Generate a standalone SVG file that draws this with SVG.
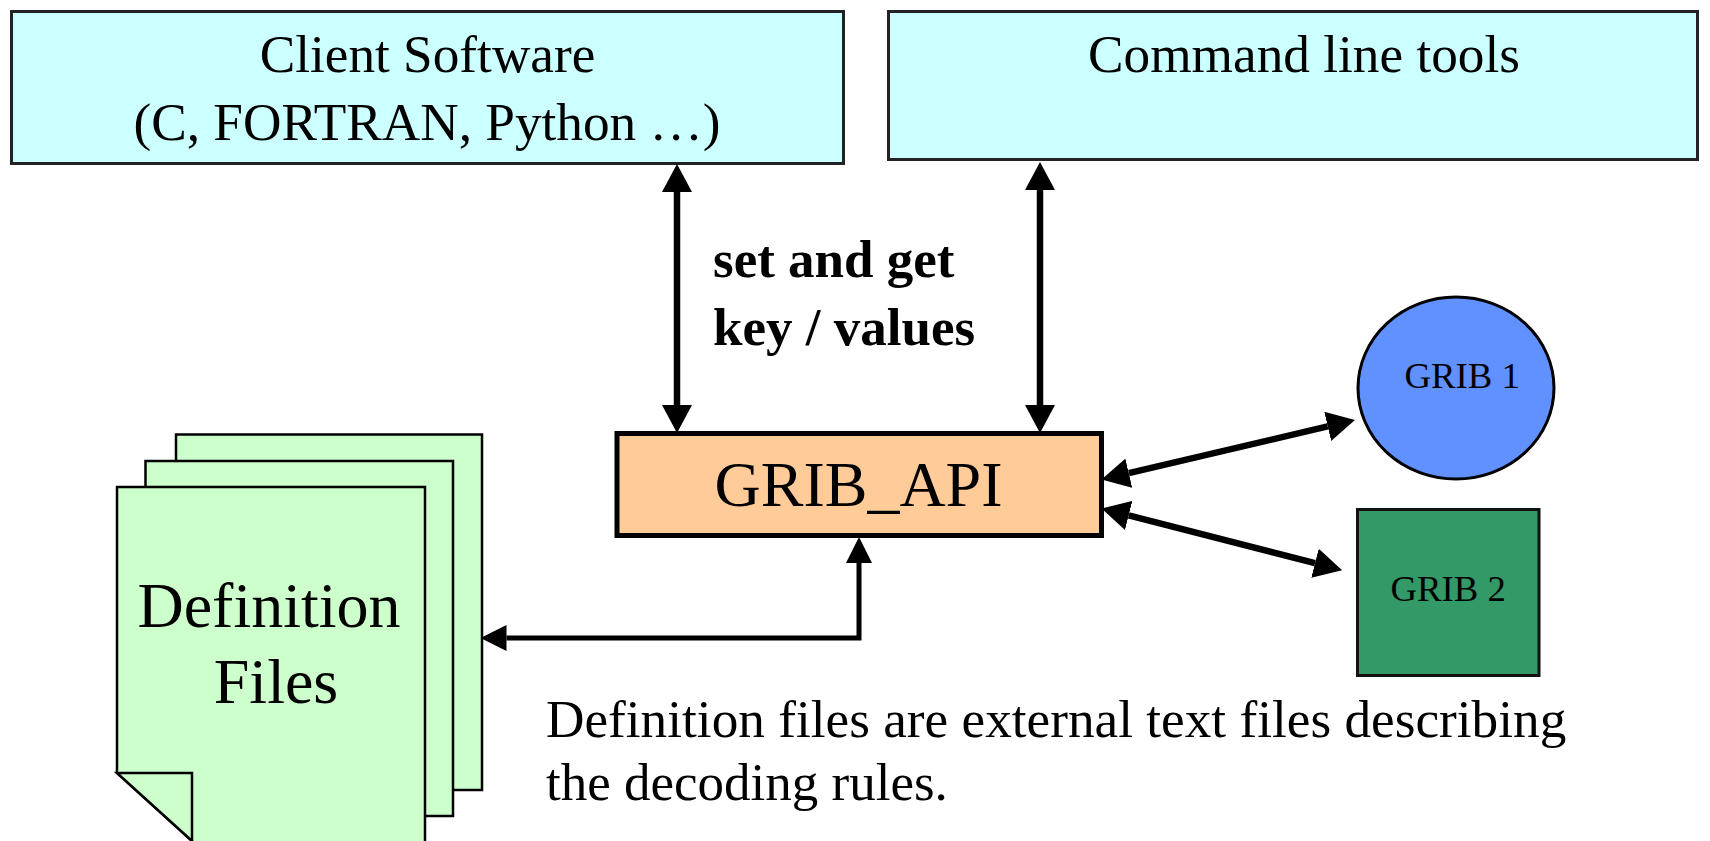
<svg xmlns="http://www.w3.org/2000/svg" width="1710" height="841" viewBox="0 0 1710 841">
<style>
text{font-family:"Liberation Serif","Times New Roman",serif;fill:#000}
.t53{font-size:53.25px}
.bold{font-weight:bold;font-size:53px}
.box{fill:#CCFFFF;stroke:#222;stroke-width:3}
.page{fill:#CCFFCC;stroke:#000;stroke-width:2.5}
.big{fill:none;stroke:#000;stroke-width:6.5;marker-start:url(#headBig);marker-end:url(#headBig)}
.small{fill:none;stroke:#000;stroke-width:5;marker-start:url(#headSmall);marker-end:url(#headSmall)}
</style>
<defs>
<marker id="headBig" markerUnits="userSpaceOnUse" viewBox="0 0 28 30" refX="0" refY="15" markerWidth="28" markerHeight="30" orient="auto-start-reverse"><path d="M0 0L28 15L0 30Z" fill="#000"/></marker>
<marker id="headSmall" markerUnits="userSpaceOnUse" viewBox="0 0 26 26" refX="0" refY="13" markerWidth="26" markerHeight="26" orient="auto-start-reverse"><path d="M0 0L26 13L0 26Z" fill="#000"/></marker>
</defs>
<rect width="1710" height="841" fill="#fff"/>
<g id="client-software">
<rect class="box" x="11.5" y="11.5" width="832" height="152"/>
<text class="t53" x="427.5" y="71.5" text-anchor="middle">Client Software</text>
<text class="t53" x="427" y="140" text-anchor="middle">(C, FORTRAN, Python …)</text>
</g>
<g id="command-line-tools">
<rect class="box" x="888.5" y="11.5" width="809" height="148"/>
<text class="t53" x="1304" y="71.5" text-anchor="middle">Command line tools</text>
</g>
<g id="grib-api">
<rect x="617" y="433.5" width="484.5" height="102" fill="#FFCC99" stroke="#000" stroke-width="5"/>
<text x="858.5" y="506" font-size="64" text-anchor="middle">GRIB_API</text>
</g>
<g id="grib-1">
<ellipse cx="1456" cy="388" rx="98" ry="91" fill="#6190FF" stroke="#000" stroke-width="3"/>
<text x="1404.5" y="388" font-size="36.8">GRIB 1</text>
</g>
<g id="grib-2">
<rect x="1357.5" y="509.5" width="181.5" height="166" fill="#339966" stroke="#111" stroke-width="3"/>
<text x="1390.5" y="600.5" font-size="36.8">GRIB 2</text>
</g>
<g id="definition-files">
<path class="page" d="M176 461V434.5H482V790H453"/>
<path class="page" d="M145.5 487V461H453V816H425"/>
<path class="page" d="M117 773V487H425V845H192V841Z"/>
<path class="page" d="M117 773H192V841Z"/>
<text x="269" y="626.5" font-size="64" text-anchor="middle">Definition</text>
<text x="276" y="703" font-size="64" text-anchor="middle">Files</text>
</g>
<g id="note">
<text class="t53" x="546" y="736.5">Definition files are external text files describing</text>
<text x="546" y="800" font-size="53">the decoding rules.</text>
</g>
<g id="set-get-label">
<text class="bold" x="713" y="276.5">set and get</text>
<text class="bold" x="713" y="345">key / values</text>
</g>
<g id="connectors">
<path class="big" d="M677 192V405"/>
<path class="big" d="M1040 190V405"/>
<path class="big" d="M1128.8 473.2L1327.7 426.4"/>
<path class="big" d="M1128.7 515.4L1315 563.2"/>
<path class="small" d="M506.5 638H859V563"/>
</g>
</svg>
